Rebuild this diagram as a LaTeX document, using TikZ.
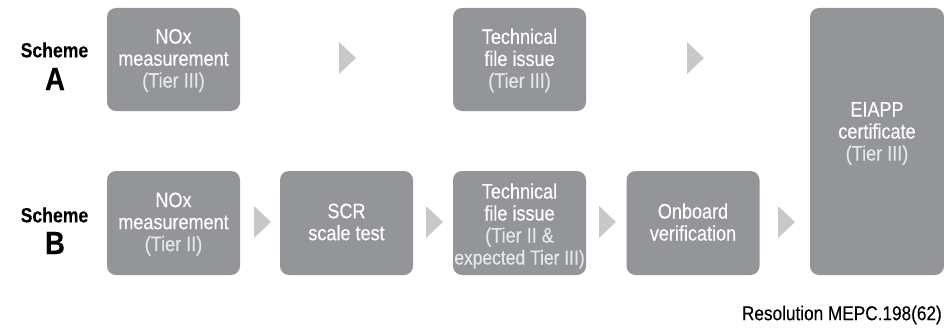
\documentclass[tikz,border=0pt]{standalone}
\usepackage{fontspec}
\setmainfont{Liberation Sans}[FakeStretch=0.86,FakeBold=0.25]
\definecolor{boxgray}{HTML}{939598}
\definecolor{chevgray}{HTML}{C7C8CA}
\definecolor{subgray}{HTML}{E6E7E8}
\newcommand{\sub}[1]{\textcolor{subgray}{#1}}
\tikzset{
  stepbox/.style={fill=boxgray,rounded corners=9pt,inner sep=0pt},
  steptext/.style={inner sep=0pt,text=white,align=center,font=\fontsize{21}{22}\selectfont},
  schemelabel/.style={align=center,inner sep=0pt,font=\bfseries\fontsize{20.5}{22}\selectfont},
  letterlabel/.style={inner sep=0pt,font=\bfseries\fontsize{32}{32}\selectfont},
  chev/.style={fill=chevgray},
}
\newcommand{\chevron}[2]{\fill[chev] (#1-8.5,#2-16) -- (#1+8.5,#2) -- (#1-8.5,#2+16) -- cycle;}
\begin{document}
\begin{tikzpicture}[x=1pt,y=-1pt]
\useasboundingbox (0,0) rectangle (944,329);
\node[stepbox,minimum width=133pt,minimum height=103pt] (a1) at (173.5,59.5) {};
\node[stepbox,minimum width=133pt,minimum height=103pt] (a2) at (519.5,59.5) {};
\node[stepbox,minimum width=133pt,minimum height=104pt] (b1) at (173.5,223) {};
\node[stepbox,minimum width=133pt,minimum height=104pt] (b2) at (346.5,223) {};
\node[stepbox,minimum width=133pt,minimum height=104pt] (b3) at (519.5,223) {};
\node[stepbox,minimum width=133pt,minimum height=104pt] (b4) at (693,223) {};
\node[stepbox,minimum width=134pt,minimum height=267pt] (c) at (877,141.5) {};
\node[steptext,yshift=-1pt] (ta1) at (a1.center) {NOx\\measurement\\\sub{(Tier III)}};
\node[steptext,yshift=-1pt] (ta2) at (a2.center) {Technical\\file issue\\\sub{(Tier III)}};
\node[steptext,yshift=-1pt] (tb1) at (b1.center) {NOx\\measurement\\\sub{(Tier II)}};
\node[steptext,yshift=1pt] (tb2) at (b2.center) {SCR\\scale test};
\node[steptext,yshift=-3pt] (tb3) at (b3.center) {Technical\\file issue\\\sub{(Tier II \&}\\\sub{\fontsize{20.3}{22}\selectfont expected Tier III)}};
\node[steptext,yshift=1pt] (tb4) at (b4.center) {Onboard\\verification};
\node[steptext,yshift=8pt] (tc) at (c.center) {EIAPP\\certificate\\\sub{(Tier III)}};
\node[schemelabel] (sa) at (54.5,50) {Scheme};
\node[letterlabel] (la) at (55,79) {A};
\node[schemelabel] (sb) at (54.5,215) {Scheme};
\node[letterlabel] (lb) at (55,243) {B};
\node[inner sep=0pt,anchor=east,font=\fontsize{20}{22}\selectfont] (src) at (942,315) {Resolution MEPC.198(62)};
\chevron{347.5}{58}
\chevron{695.5}{58}
\chevron{262.5}{222}
\chevron{434.5}{222}
\chevron{607.5}{222}
\chevron{786.5}{222}
\end{tikzpicture}
\end{document}
